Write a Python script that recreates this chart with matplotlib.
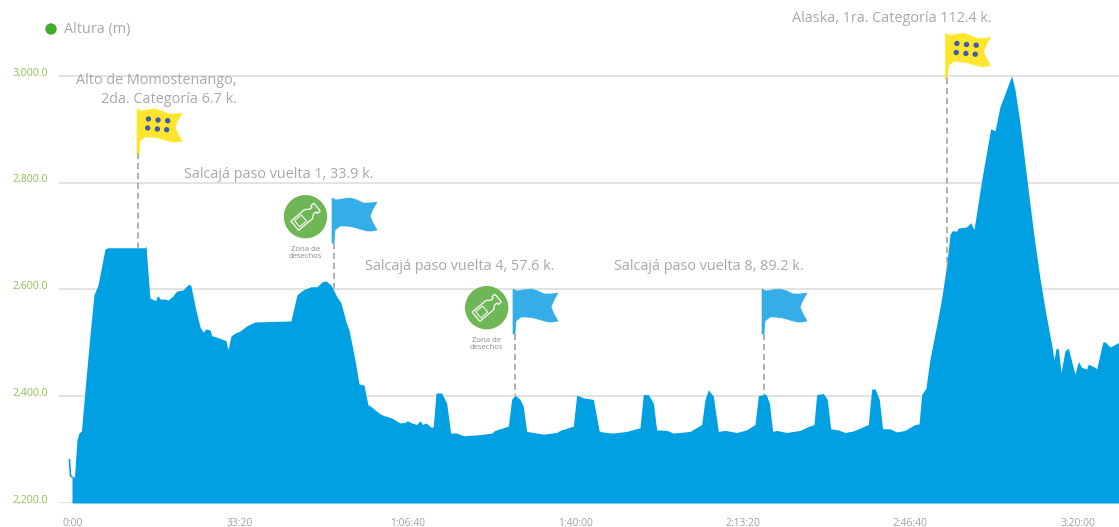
import matplotlib.pyplot as plt
import matplotlib.transforms as mtrans
from matplotlib.patches import Circle, Polygon
import numpy as np

plt.rcParams['font.family'] = ['Open Sans', 'DejaVu Sans']

# elapsed time in seconds, height in metres
time_s = [0, 12, 30, 60, 89, 113, 143, 185, 245, 292, 340, 376, 424, 459, 901, 913, 925, 960, 1008, 1032,
          1044, 1056, 1080, 1139, 1175, 1223, 1282, 1354, 1390, 1426, 1449, 1497, 1557, 1593, 1628, 1676, 1700, 1748, 1819, 1867,
          1891, 1927, 1974, 2034, 2118, 2213, 2642, 2714, 2786, 2881, 2953, 3012, 3060, 3120, 3191, 3239, 3299, 3335, 3406, 3454,
          3513, 3561, 3585, 3704, 3764, 3847, 3943, 4003, 4030, 4082, 4142, 4182, 4213, 4253, 4321, 4341, 4373, 4440, 4500, 4547,
          4619, 4699, 4897, 5037, 5076, 5176, 5236, 5275, 5315, 5375, 5414, 5454, 5534, 5653, 5812, 5852, 6011, 6051, 6130, 6250,
          6321, 6409, 6488, 6647, 6806, 6846, 6906, 6966, 7005, 7125, 7204, 7403, 7542, 7582, 7622, 7681, 7741, 7820, 7960, 8079,
          8178, 8218, 8310, 8350, 8389, 8437, 8556, 8716, 8795, 8882, 8914, 8993, 9041, 9081, 9172, 9252, 9351, 9530, 9570, 9610,
          9661, 9701, 9789, 9868, 9968, 10087, 10135, 10167, 10218, 10266, 10346, 10405, 10465, 10505, 10532, 10584, 10604, 10704, 10751, 10791,
          10882, 10990, 11042, 11101, 11161, 11240, 11280, 11340, 11419, 11499, 11578, 11638, 11726, 11745, 11769, 11797, 11829, 11877, 11916, 11996,
          12036, 12076, 12135, 12155, 12235, 12255, 12326, 12354, 12414, 12521]
height_m = [2281, 2251, 2249, 2249, 2318, 2331, 2335, 2412, 2515, 2590, 2608, 2637, 2676, 2678, 2678, 2681, 2655, 2584, 2580, 2580,
            2586, 2588, 2582, 2582, 2580, 2586, 2597, 2599, 2605, 2610, 2607, 2569, 2530, 2520, 2526, 2524, 2513, 2511, 2507, 2504,
            2487, 2513, 2518, 2522, 2532, 2539, 2541, 2590, 2599, 2605, 2605, 2614, 2616, 2608, 2586, 2575, 2539, 2524, 2468, 2423,
            2421, 2384, 2382, 2367, 2363, 2359, 2350, 2351, 2354, 2350, 2347, 2354, 2347, 2350, 2341, 2344, 2406, 2406, 2387, 2331,
            2331, 2326, 2328, 2331, 2336, 2341, 2344, 2394, 2402, 2394, 2381, 2334, 2332, 2329, 2332, 2336, 2344, 2402, 2397, 2394,
            2334, 2332, 2331, 2334, 2341, 2403, 2403, 2387, 2337, 2336, 2331, 2334, 2347, 2394, 2412, 2400, 2334, 2336, 2332, 2337,
            2347, 2401, 2404, 2387, 2334, 2336, 2332, 2336, 2342, 2347, 2403, 2405, 2394, 2339, 2337, 2332, 2335, 2347, 2413, 2414,
            2394, 2339, 2339, 2333, 2336, 2347, 2348, 2403, 2415, 2470, 2533, 2583, 2646, 2703, 2710, 2709, 2715, 2717, 2725, 2712,
            2804, 2901, 2897, 2942, 2967, 3000, 2974, 2911, 2810, 2709, 2621, 2564, 2489, 2468, 2489, 2489, 2444, 2485, 2490, 2441,
            2465, 2454, 2451, 2460, 2454, 2451, 2501, 2502, 2492, 2501]

y_ticks = [2200, 2400, 2600, 2800, 3000]
y_labels = ['2,200.0', '2,400.0', '2,600.0', '2,800.0', '3,000.0']
x_ticks = [0, 2000, 4000, 6000, 8000, 10000, 12000]
x_labels = ['0:00', '33:20', '1:06:40', '1:40:00', '2:13:20', '2:46:40', '3:20:00']

BLUE = '#00a0e3'
GREY = '#a8a8a8'
NOTE_SIZE = 10.35

fig = plt.figure(figsize=(11.19, 5.27), dpi=100)
ax = fig.add_axes([59 / 1119, 24 / 527, 1060 / 1119, 503 / 527])
ax.set_xlim(-125, 12521)
ax.set_ylim(2200, 3142)

# first samples are a thin spike that floats above the base
ax.fill_between(time_s[2:], height_m[2:], 2200, color=BLUE, lw=0, zorder=3)
ax.plot(time_s[:3], height_m[:3], color=BLUE, lw=1.2, zorder=3)

ax.set_yticks(y_ticks, y_labels)
ax.set_xticks(x_ticks, x_labels)
ax.grid(axis='y', color='#dedede', lw=1.2, zorder=1)
ax.tick_params(length=0)
ax.tick_params(axis='y', labelsize=7.6, labelcolor='#8fbf4f', pad=8)
ax.tick_params(axis='x', labelsize=7.4, labelcolor='#a0a0a0', pad=10.5)
for s in ax.spines.values():
    s.set_visible(False)
for lab in ax.get_yticklabels():
    lab.set_transform(lab.get_transform() + mtrans.ScaledTranslation(0, 3 / 72, fig.dpi_scale_trans))
for lab in ax.get_xticklabels():
    lab.set_transform(lab.get_transform() + mtrans.ScaledTranslation(2 / 72, 0, fig.dpi_scale_trans))

# overlay in pixels for the flags, icons and notes
over = fig.add_axes([0, 0, 1, 1])
over.set_xlim(0, 1119)
over.set_ylim(527, 0)
over.axis('off')
over.patch.set_alpha(0)

FLAG = [(0, 0), (4, 2), (10, 1), (18, 0), (25, 2), (31, 5), (38, 5), (45, 4), (41, 11), (38, 18), (41, 25), (45, 32),
        (40, 33), (35, 33), (28, 31), (21, 29), (14, 28), (8, 28), (3, 32), (2, 45), (0, 45)]
DOTS = [(11.4, 10), (21, 11), (30.7, 11.7), (10.7, 19), (20.4, 20), (29.7, 20.7)]
BOTTLE = [(-14, -6), (4, -6), (8, -3), (11, -3), (11, -5), (15, -5), (15, 5), (11, 5), (11, 3), (8, 3), (4, 6), (-14, 6)]


def draw_flag(x, y, color, dots=False):
    pts = [(x + a, y + b) for a, b in FLAG]
    over.add_patch(Polygon(pts, closed=True, fc=color, ec=color, lw=0.5))
    if dots:
        for a, b in DOTS:
            over.add_patch(Circle((x + a, y + b), 2.7, fc='#3f5ba9', ec='none'))


def draw_bottle_icon(x, y):
    over.add_patch(Circle((x, y), 21.7, fc='#6fb756', ec='none'))
    ang = np.radians(-40)
    c, s = np.cos(ang), np.sin(ang)
    pts = [(x + a * c - b * s, y + a * s + b * c) for a, b in BOTTLE]
    over.add_patch(Polygon(pts, closed=True, fc='none', ec='white', lw=0.9))
    label = [(-11, -4), (-2, -4), (-2, 4), (-11, 4)]
    pts = [(x + a * c - b * s, y + a * s + b * c) for a, b in label]
    over.add_patch(Polygon(pts, closed=True, fc='none', ec='white', lw=0.7))
    over.text(x, y + 36, 'Zona de\ndesechos', fontsize=5.6, color='#8a8a8a', ha='center', va='center', linespacing=1.0)


def leader(x, y0, y1):
    over.plot([x, x], [y0, y1], color='#9a9a9a', lw=1.1, dashes=(4, 2.5), zorder=2)


leader(138, 153, 248)
leader(333.5, 243, 290)
leader(515, 334, 395)
leader(763.5, 334, 395)
leader(946.5, 78, 270)

draw_flag(137, 109, '#ffe62e', dots=True)
draw_flag(945.5, 33.5, '#ffe62e', dots=True)
draw_flag(332, 198, '#35aee8')
draw_flag(513, 289, '#35aee8')
draw_flag(762, 289, '#35aee8')
draw_bottle_icon(305.5, 216.7)
draw_bottle_icon(486.7, 307.7)

# legend
over.add_patch(Circle((51, 29), 5.7, fc='#3fae2a', ec='none'))
over.text(64, 29.5, 'Altura (m)', fontsize=NOTE_SIZE, color=GREY, va='center')

over.text(237, 90, 'Alto de Momostenango,\n2da. Categoría 6.7 k.', fontsize=NOTE_SIZE, color=GREY, ha='right', va='center', linespacing=1.35)
over.text(184, 175, 'Salcajá paso vuelta 1, 33.9 k.', fontsize=NOTE_SIZE, color=GREY, va='center')
over.text(365, 266, 'Salcajá paso vuelta 4, 57.6 k.', fontsize=NOTE_SIZE, color=GREY, va='center')
over.text(614, 266, 'Salcajá paso vuelta 8, 89.2 k.', fontsize=NOTE_SIZE, color=GREY, va='center')
over.text(792, 19, 'Alaska, 1ra. Categoría 112.4 k.', fontsize=NOTE_SIZE, color=GREY, va='center')

plt.savefig('out.png', dpi=100)
plt.close()
